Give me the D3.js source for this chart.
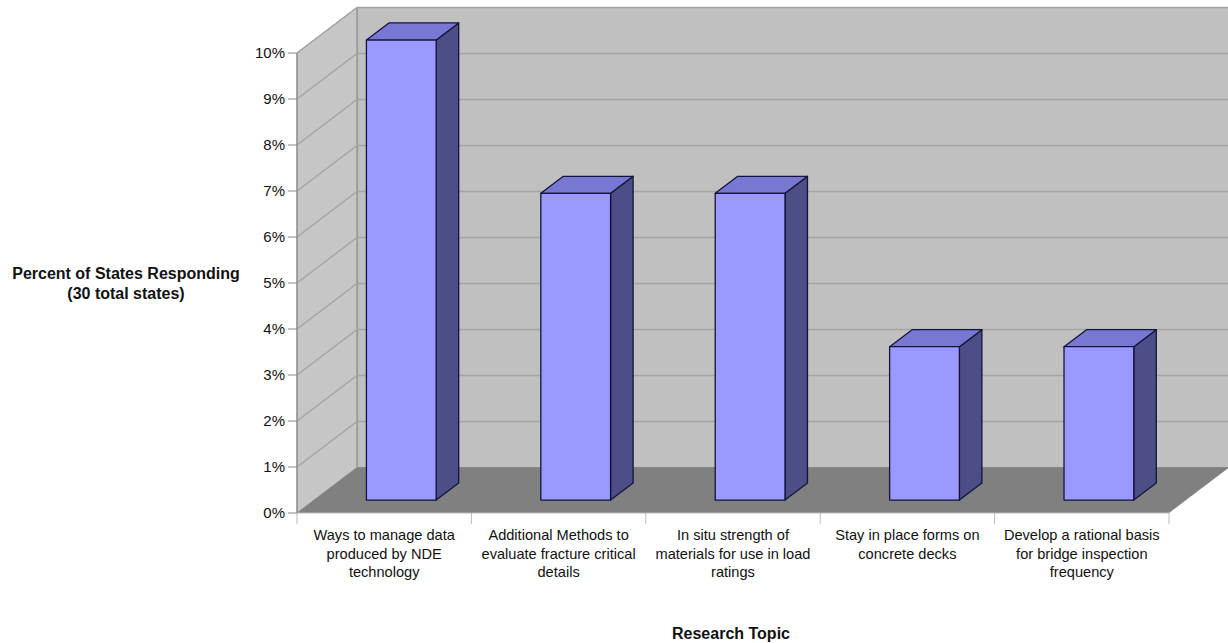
<!DOCTYPE html>
<html>
<head>
<meta charset="utf-8">
<script src="https://cdn.jsdelivr.net/npm/d3@7"></script>
<style>
  html, body { margin: 0; padding: 0; background: #fff; }
  svg { display: block; font-family: "Liberation Sans", Arial, sans-serif; }
</style>
</head>
<body>
<svg id="chart" width="1228" height="643"></svg>
<script>
// ---- data ----
const categories = [
  "Ways to manage data produced by NDE technology",
  "Additional Methods to evaluate fracture critical details",
  "In situ strength of materials for use in load ratings",
  "Stay in place forms on concrete decks",
  "Develop a rational basis for bridge inspection frequency"
];
const categoryLines = [
  ["Ways to manage data", "produced by NDE", "technology"],
  ["Additional Methods to", "evaluate fracture critical", "details"],
  ["In situ strength of", "materials for use in load", "ratings"],
  ["Stay in place forms on", "concrete decks"],
  ["Develop a rational basis", "for bridge inspection", "frequency"]
];
const values = [10, 6.667, 6.667, 3.333, 3.333];   // percent of states
const yTicks = [0, 1, 2, 3, 4, 5, 6, 7, 8, 9, 10];
const yTickLabels = ["0%", "1%", "2%", "3%", "4%", "5%", "6%", "7%", "8%", "9%", "10%"];
const yTitle = ["Percent of States Responding", "(30 total states)"];
const xTitle = "Research Topic";

// ---- layout ----
const svg = d3.select("#chart");
const x = d3.scaleBand().domain(categories).range([297, 1169]).paddingInner(0).paddingOuter(0);
const y = d3.scaleLinear().domain([0, 10]).range([513, 53]);
const depthX = d3.scaleLinear().domain([0, 1]).range([0, 60]);
const depthY = d3.scaleLinear().domain([0, 1]).range([0, -45.5]);

const x0 = x.range()[0], x1 = x.range()[1];
const yTop = y(10), yBase = y(0);
const DX = depthX(1), DY = depthY(1);

const wallFill = "#c0c0c0", floorFill = "#808080", gridCol = "#a4a4a4", edgeCol = "#8a8a8a";

// back wall
svg.append("path")
  .attr("d", `M${x0 + DX},${yBase + DY} L${x0 + DX},${yTop + DY} L${x1 + DX},${yTop + DY} L${x1 + DX},${yBase + DY} Z`)
  .attr("fill", wallFill).attr("stroke", edgeCol).attr("stroke-width", 1);
// left wall
svg.append("path")
  .attr("d", `M${x0},${yBase} L${x0},${yTop} L${x0 + DX},${yTop + DY} L${x0 + DX},${yBase + DY} Z`)
  .attr("fill", "#c6c6c6").attr("stroke", edgeCol).attr("stroke-width", 1);

// gridlines
const grid = svg.append("g");
yTicks.filter(t => t > 0).forEach(t => {
  grid.append("path")
    .attr("d", `M${x0},${y(t)} L${x0 + DX},${y(t) + DY} L${x1 + DX},${y(t) + DY}`)
    .attr("fill", "none").attr("stroke", gridCol).attr("stroke-width", 1.3);
});

// floor
svg.append("path")
  .attr("d", `M${x0},${yBase} L${x0 + DX},${yBase + DY} L${x1 + DX},${yBase + DY} L${x1},${yBase} Z`)
  .attr("fill", floorFill).attr("stroke", "none");

// bars
const barFrac = 0.40;
const dFront = 0.285, dBack = 0.66;
const bars = svg.append("g");
categories.forEach((c, i) => {
  const cx = x(c) + x.bandwidth() / 2;
  const w = x.bandwidth() * barFrac;
  const fx = cx - w / 2 + depthX(dFront), fy = depthY(dFront);
  const ox = depthX(dBack) - depthX(dFront), oy = depthY(dBack) - depthY(dFront);
  const top = y(values[i]) + fy, bot = y(0) + fy;
  const L = fx, R = fx + w;
  const g = bars.append("g").attr("stroke", "#14143a").attr("stroke-width", 1.3).attr("stroke-linejoin", "round");
  // side
  g.append("path").attr("d", `M${R},${bot} L${R},${top} L${R + ox},${top + oy} L${R + ox},${bot + oy} Z`).attr("fill", "#4d4d87");
  // top
  g.append("path").attr("d", `M${L},${top} L${L + ox},${top + oy} L${R + ox},${top + oy} L${R},${top} Z`).attr("fill", "#7878d4");
  // front
  g.append("path").attr("d", `M${L},${bot} L${L},${top} L${R},${top} L${R},${bot} Z`).attr("fill", "#9999ff");
});

// y axis ticks and labels
const ya = svg.append("g");
yTicks.forEach((t, i) => {
  ya.append("line").attr("x1", x0 - 9).attr("x2", x0).attr("y1", y(t)).attr("y2", y(t))
    .attr("stroke", "#888").attr("stroke-width", 1);
  ya.append("text").attr("x", 285).attr("y", y(t)).attr("dy", "0.35em")
    .attr("text-anchor", "end").attr("font-size", 15).attr("fill", "#111").text(yTickLabels[i]);
});
ya.append("line").attr("x1", x0).attr("x2", x0).attr("y1", yTop).attr("y2", yBase)
  .attr("stroke", "#888").attr("stroke-width", 1);

// x axis ticks and labels
const xa = svg.append("g");
xa.append("line").attr("x1", x0).attr("x2", x1).attr("y1", yBase).attr("y2", yBase)
  .attr("stroke", "#bbb").attr("stroke-width", 1);
categories.concat([null]).forEach((c, i) => {
  const xx = c ? x(c) : x1;
  xa.append("line").attr("x1", xx).attr("x2", xx).attr("y1", yBase).attr("y2", yBase + 11)
    .attr("stroke", "#bbb").attr("stroke-width", 1);
});
categories.forEach((c, i) => {
  const cx = x(c) + x.bandwidth() / 2;
  const t = xa.append("text").attr("text-anchor", "middle").attr("font-size", 14.6).attr("fill", "#111");
  categoryLines[i].forEach((ln, j) => {
    t.append("tspan").attr("x", cx).attr("y", 540 + j * 18.7).text(ln);
  });
});

// titles
const yt = svg.append("text").attr("text-anchor", "middle").attr("font-size", 16).attr("font-weight", "bold").attr("fill", "#111");
yTitle.forEach((ln, j) => yt.append("tspan").attr("x", 126).attr("y", 279 + j * 19.5).text(ln));
svg.append("text").attr("x", 731).attr("y", 639).attr("text-anchor", "middle")
  .attr("font-size", 16).attr("font-weight", "bold").attr("fill", "#111").text(xTitle);
</script>
</body>
</html>
